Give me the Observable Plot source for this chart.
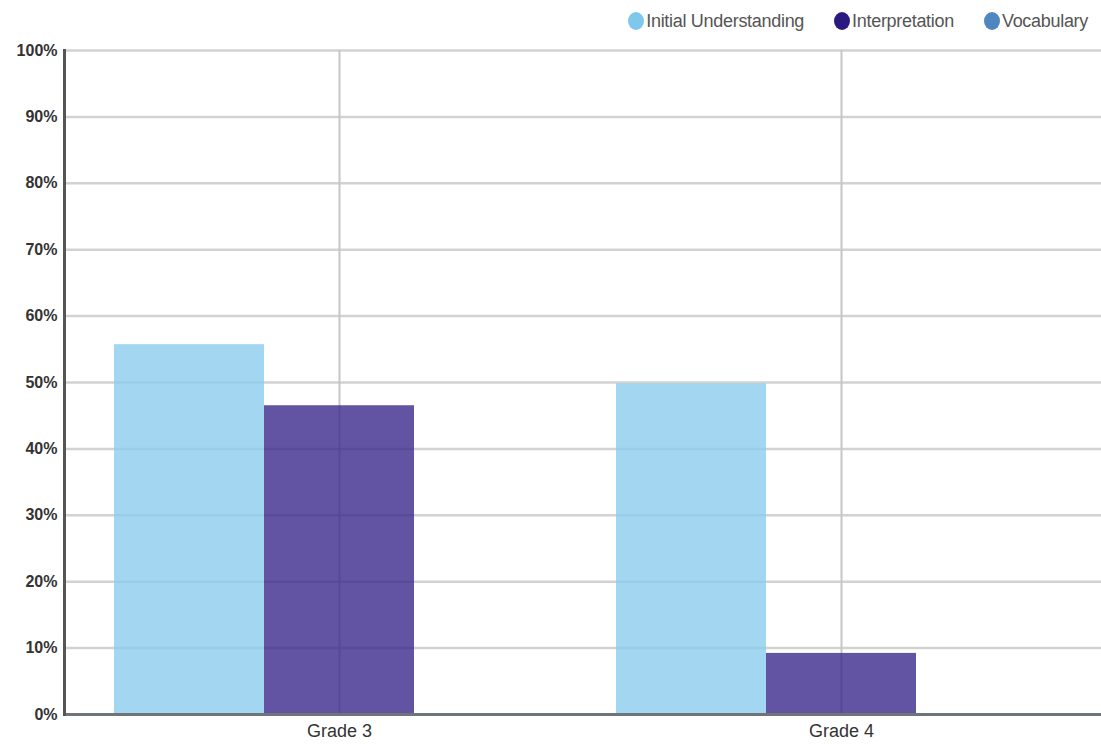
<!DOCTYPE html>
<html>
<head>
<meta charset="utf-8">
<script src="https://cdn.jsdelivr.net/npm/d3@7"></script>
<script src="https://cdn.jsdelivr.net/npm/@observablehq/plot@0.6"></script>
<style>
  html, body { margin: 0; padding: 0; background: #fff; overflow: hidden; }
  body { width: 1101px; height: 748px; font-family: "Liberation Sans", Arial, sans-serif; }
  #legend { height: 42px; display: flex; justify-content: flex-end; align-items: center; padding-right: 13px; box-sizing: border-box; font-size: 18px; color: #555; letter-spacing: -0.3px; }
  .item { display: flex; align-items: center; margin-left: 30px; }
  .dot { width: 16px; height: 18px; border-radius: 50%; margin-right: 2px; }
  #chart { position: relative; width: 1101px; height: 706px; }
  #chart svg { position: absolute; left: 0; top: 0; }
</style>
</head>
<body>
<div id="legend"></div>
<div id="chart"></div>
<script>
const grades = ["Grade 3", "Grade 4"];
const series = ["Initial Understanding", "Interpretation", "Vocabulary"];
const initialUnderstanding = [0.557, 0.498];
const interpretation = [0.465, 0.092];
const vocabulary = [0, 0];
const yTicks = [0, 0.1, 0.2, 0.3, 0.4, 0.5, 0.6, 0.7, 0.8, 0.9, 1.0];
const barColors = ["#8cccec", "#3c288c", "#4f86c0"];
const legendColors = ["#7ec8ec", "#2a1a80", "#4f86c0"];

const valuesBySeries = [initialUnderstanding, interpretation, vocabulary];
const data = [];
grades.forEach((g, i) => series.forEach((s, j) => data.push({grade: g, series: s, value: valuesBySeries[j][i]})));

const legend = document.getElementById("legend");
series.forEach((s, j) => {
  const it = document.createElement("div");
  it.className = "item";
  const d = document.createElement("div");
  d.className = "dot";
  d.style.background = legendColors[j];
  const t = document.createElement("span");
  t.textContent = s;
  it.appendChild(d); it.appendChild(t);
  legend.appendChild(it);
});

const common = {
  width: 1101,
  height: 706,
  marginTop: 8,
  marginBottom: 34,
  marginLeft: 64,
  marginRight: -14,
  style: {fontFamily: '"Liberation Sans", Arial, sans-serif', color: "#333", background: "transparent", overflow: "visible"}
};

// Background layer: gridlines, axes and labels
const back = Plot.plot({
  ...common,
  x: {type: "band", domain: grades, paddingInner: 0.1, paddingOuter: 0.095, label: null},
  y: {domain: [0, 1], label: null},
  marks: [
    Plot.ruleY(yTicks, {stroke: "#d2d2d2", strokeWidth: 2.5}),
    Plot.ruleX(grades, {stroke: "#c6c6c6", strokeWidth: 2}),
    Plot.ruleY([0], {stroke: "#6d747a", strokeWidth: 3}),
    Plot.frame({anchor: "left", stroke: "#555", strokeWidth: 3}),
    Plot.axisY({ticks: yTicks, tickSize: 0, tickPadding: 7, tickFormat: d3.format(".0%"), fontWeight: "bold", fontSize: 16, label: null}),
    Plot.axisX({anchor: "bottom", tickSize: 0, tickPadding: 10, fontSize: 18, label: null})
  ]
});

// Foreground layer: grouped bars
const front = Plot.plot({
  ...common,
  fx: {domain: grades, paddingInner: 0.1, paddingOuter: 0.095, label: null, axis: null},
  x: {domain: series, padding: 0, axis: null},
  y: {domain: [0, 1], axis: null},
  color: {domain: series, range: barColors},
  marks: [
    Plot.barY(data, {fx: "grade", x: "series", y: "value", fill: "series", fillOpacity: 0.8, inset: 0}),
    Plot.ruleY([0], {stroke: "#6d747a", strokeWidth: 3})
  ]
});

const chart = document.getElementById("chart");
chart.appendChild(back);
chart.appendChild(front);
</script>
</body>
</html>
